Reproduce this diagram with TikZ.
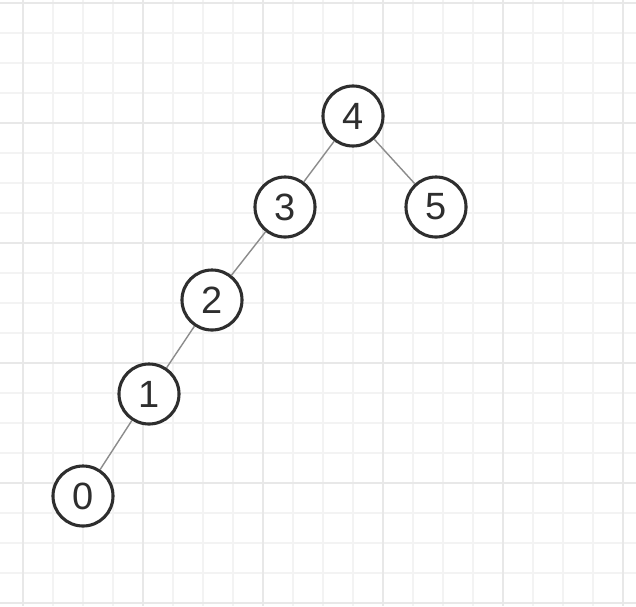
\documentclass[tikz,border=0pt]{standalone}
\usepackage{tikz}
\usepackage{fontspec}
\setmainfont{Liberation Sans}
\definecolor{gridminor}{HTML}{F3F3F3}
\definecolor{gridmajor}{HTML}{E8E8E8}
\definecolor{ink}{HTML}{2E2E2E}
\definecolor{edgegray}{HTML}{8C8C8C}
\newcommand\keynode[3]{\node[key] (#1) at (#2) {#3};}

\begin{document}
\begin{tikzpicture}[x=.025cm, y=-.025cm,
        key/.style={circle, draw=ink, line width=2.2pt, fill=white, minimum size=1.5cm, inner sep=0pt, text=ink, font=\fontsize{27}{27}\selectfont},
        edge/.style={draw=edgegray, line width=1pt},
        gridline/.style={gridminor, line width=1.4pt},
        gridbold/.style={gridmajor, line width=1.5pt}]
                \useasboundingbox (0,0) rectangle (636,606);
                \fill[white] (0,0) rectangle (636,606);

                % Сетка
                \foreach \gx in {23,53,...,623}
                    \draw[gridline] (\gx,0) -- (\gx,606);
                \foreach \gy in {3,33,...,603}
                    \draw[gridline] (0,\gy) -- (636,\gy);
                \foreach \gx in {23,143,...,623}
                    \draw[gridbold] (\gx,0) -- (\gx,606);
                \foreach \gy in {3,123,...,603}
                    \draw[gridbold] (0,\gy) -- (636,\gy);

                % Вершины
                \keynode{k4}{353,116}{4}
                \keynode{k3}{285,207}{3}
                \keynode{k5}{436,207}{5}
                \keynode{k2}{212,300}{2}
                \keynode{k1}{149,394}{1}
                \keynode{k0}{83,496}{0}

                % Рёбра
                \draw[edge] (k4) -- (k3);
                \draw[edge] (k4) -- (k5);
                \draw[edge] (k3) -- (k2);
                \draw[edge] (k2) -- (k1);
                \draw[edge] (k1) -- (k0);
            \end{tikzpicture}
\end{document}
